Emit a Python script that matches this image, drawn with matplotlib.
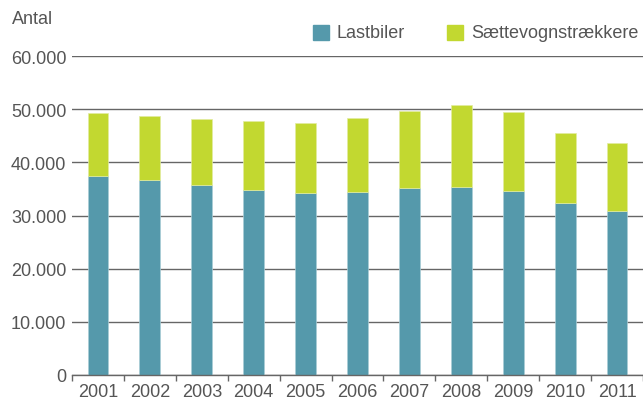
import matplotlib
matplotlib.use("Agg")
import matplotlib.pyplot as plt
from matplotlib.patches import Rectangle
from matplotlib.ticker import FuncFormatter

years = ["2001", "2002", "2003", "2004", "2005", "2006", "2007", "2008", "2009", "2010", "2011"]
lastbiler = [37500, 36700, 35700, 34800, 34200, 34500, 35200, 35400, 34700, 32300, 30800]
totals = [49200, 48800, 48100, 47700, 47400, 48300, 49600, 50700, 49500, 45500, 43700]
saettevogn = [t - l for t, l in zip(totals, lastbiler)]
series_names = ["Lastbiler", "Sættevognstrækkere"]
y_ticks = [0, 10000, 20000, 30000, 40000, 50000, 60000]

BLUE = "#5599ab"
GREEN = "#c2d830"
TXT = "#555555"
GRID = "#666666"
FS = 13.0

plt.rcParams["font.family"] = ["Liberation Sans", "DejaVu Sans"]

W, H = 643, 402
fig = plt.figure(figsize=(W / 100, H / 100), dpi=100)
ax = fig.add_axes([72 / W, 1 - 376 / H, (643 - 72) / W, (376 - 57) / H])

x = list(range(len(years)))
ax.bar(x, lastbiler, width=0.4, color=BLUE, edgecolor="#a9cdd6", linewidth=0.5, zorder=3)
ax.bar(x, saettevogn, bottom=lastbiler, width=0.4, color=GREEN, edgecolor="#e2eca0", linewidth=0.5, zorder=3)

ax.set_xlim(-0.5, len(years) - 0.5)
ax.set_ylim(0, 60000)
ax.set_yticks(y_ticks)
ax.yaxis.set_major_formatter(FuncFormatter(lambda v, p: f"{int(v):,}".replace(",", ".")))
ax.yaxis.grid(True, color=GRID, linewidth=1.0, zorder=1)
ax.tick_params(axis="y", length=0, pad=4, labelsize=FS, labelcolor=TXT)

ax.set_xticks(x)
ax.set_xticklabels(years)
ax.set_xticks([i - 0.5 for i in range(len(years) + 1)], minor=True)
ax.tick_params(axis="x", which="major", length=0, pad=6, labelsize=FS, labelcolor=TXT)
ax.tick_params(axis="x", which="minor", length=4, width=1.0, color=GRID, direction="out")

for s in ["top", "right", "left"]:
    ax.spines[s].set_visible(False)
ax.spines["bottom"].set_color(GRID)
ax.spines["bottom"].set_linewidth(1.0)
ax.spines["bottom"].set_zorder(4)

fig.text(12 / W, 1 - 20 / H, "Antal", fontsize=FS, color=TXT, va="center", ha="left")

# legend
for sx, tx, col, name in [(313, 336, BLUE, series_names[0]), (447, 471, GREEN, series_names[1])]:
    fig.patches.append(Rectangle((sx / W, 1 - 41 / H), 15.5 / W, 15.5 / H,
                                 transform=fig.transFigure, color=col, figure=fig))
    fig.text(tx / W, 1 - 33.5 / H, name, fontsize=FS, color=TXT, va="center", ha="left")

fig.savefig("out.png", dpi=100)
